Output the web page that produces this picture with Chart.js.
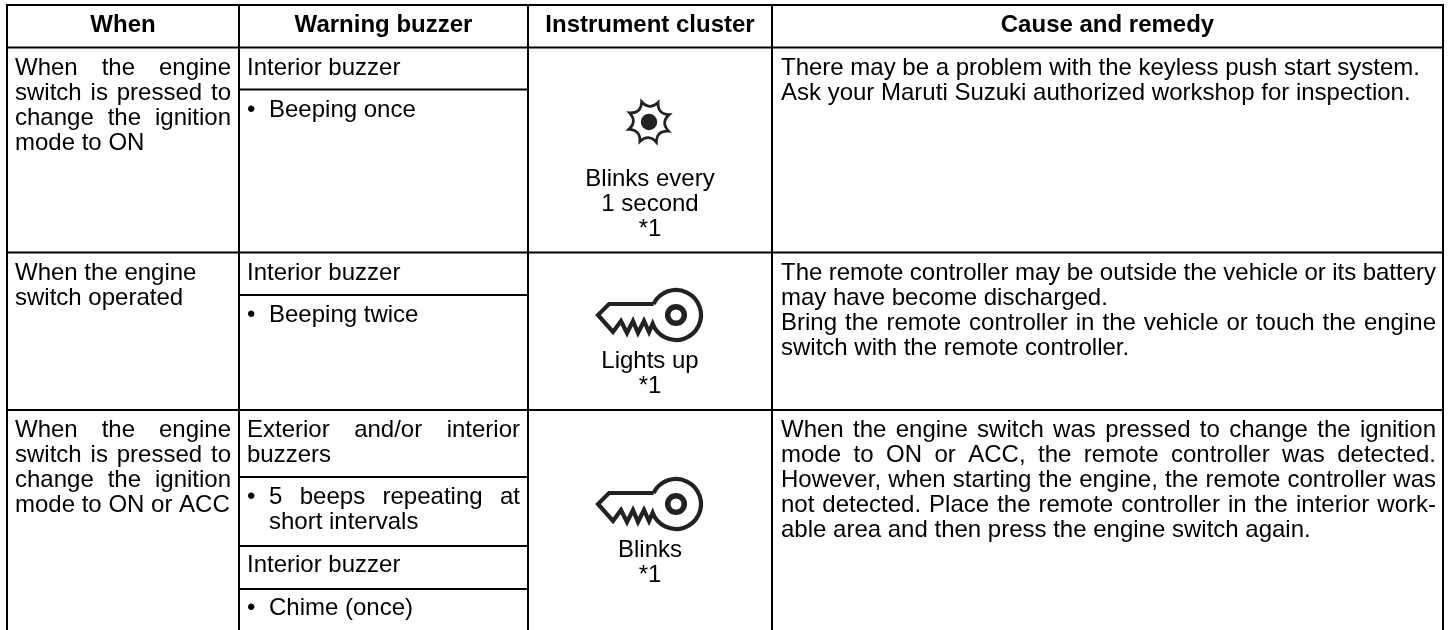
<!DOCTYPE html>
<html>
<head>
<meta charset="utf-8">
<style>
  html, body { margin: 0; padding: 0; background: #fff; overflow: hidden; }
  #myChart { display: block; }
</style>
<script src="https://cdn.jsdelivr.net/npm/chart.js@4"></script>
</head>
<body>
<canvas id="myChart" width="1452" height="630"></canvas>
<script>
// table content
var headers = ["When", "Warning buzzer", "Instrument cluster", "Cause and remedy"];
var whenRow1 = ["When the engine", "switch is pressed to", "change the ignition", "mode to ON"];
var whenRow2 = ["When the engine", "switch operated"];
var whenRow3 = ["When the engine", "switch is pressed to", "change the ignition", "mode to ON or ACC"];
var buzzerRow1 = ["Interior buzzer", "Beeping once"];
var buzzerRow2 = ["Interior buzzer", "Beeping twice"];
var buzzerRow3a = ["Exterior and/or interior", "buzzers"];
var buzzerRow3b = ["5 beeps repeating at", "short intervals"];
var buzzerRow3c = ["Interior buzzer", "Chime (once)"];
var clusterRow1 = ["Blinks every", "1 second", "*1"];
var clusterRow2 = ["Lights up", "*1"];
var clusterRow3 = ["Blinks", "*1"];
var remedyRow1 = ["There may be a problem with the keyless push start system.", "Ask your Maruti Suzuki authorized workshop for inspection."];
var remedyRow2 = ["The remote controller may be outside the vehicle or its battery", "may have become discharged.", "Bring the remote controller in the vehicle or touch the engine", "switch with the remote controller."];
var remedyRow3 = ["When the engine switch was pressed to change the ignition", "mode to ON or ACC, the remote controller was detected.", "However, when starting the engine, the remote controller was", "not detected. Place the remote controller in the interior work-", "able area and then press the engine switch again."];

// rules of the table, in page units of the two scales
var colEdges = [7, 239, 528, 772, 1443];
var rowEdges = [5, 47.5, 252.5, 410];
var subRules = [89.5, 295, 477, 546, 589];

var FONT = '"Liberation Sans", Arial, sans-serif';
var SIZE = 24;
var PITCH = 24.9;

function rule(x1, y1, x2, y2) {
  return {
    data: [{ x: x1, y: y1 }, { x: x2, y: y2 }],
    showLine: true, borderColor: '#000', borderWidth: 2,
    pointRadius: 0, borderCapStyle: 'square', order: 2
  };
}

function sunIcon() {
  var c = document.createElement('canvas');
  c.width = 60; c.height = 60;
  var g = c.getContext('2d');
  g.translate(30, 30);
  g.strokeStyle = '#222'; g.fillStyle = '#222';
  g.lineWidth = 2.8; g.lineJoin = 'miter';
  g.beginPath();
  for (var i = 0; i < 8; i++) {
    var a = (i * 45 - 20) * Math.PI / 180;
    var b = a + 22.5 * Math.PI / 180;
    g[i ? 'lineTo' : 'moveTo'](Math.cos(a) * 21.5, Math.sin(a) * 21.5);
    g.quadraticCurveTo(Math.cos(b) * 11.5, Math.sin(b) * 11.5, Math.cos(a + Math.PI / 4) * 21.5, Math.sin(a + Math.PI / 4) * 21.5);
  }
  g.closePath();
  g.stroke();
  g.beginPath();
  g.arc(0, 0, 8.2, 0, Math.PI * 2);
  g.fill();
  return c;
}

function keyIcon() {
  var c = document.createElement('canvas');
  c.width = 120; c.height = 70;
  var g = c.getContext('2d');
  g.translate(86, 35); // ring centre
  g.strokeStyle = '#222';
  g.lineWidth = 4.2; g.lineJoin = 'miter';
  g.beginPath();
  g.arc(0, 0, 25, Math.PI * 1.145, Math.PI * 0.885, false);
  g.lineTo(-27, 17); g.lineTo(-32, 6); g.lineTo(-38, 18); g.lineTo(-43, 6);
  g.lineTo(-49, 18); g.lineTo(-55, 6); g.lineTo(-63, 17);
  g.lineTo(-78, 0);
  g.lineTo(-67, -11);
  g.lineTo(-22.4, -11);
  g.stroke();
  g.lineWidth = 5.5;
  g.beginPath();
  g.arc(0, 0, 8.3, 0, Math.PI * 2);
  g.stroke();
  return c;
}

// text blocks: lines, left or centre x, first baseline, justified line indexes
var blocks = [
  { lines: whenRow1, x: 15, right: 231, y: 75, justify: [0, 1, 2] },
  { lines: whenRow2, x: 15, y: 280 },
  { lines: whenRow3, x: 15, right: 231, y: 437, justify: [0, 1, 2] },
  { lines: [buzzerRow1[0]], x: 247, y: 75 },
  { lines: [buzzerRow1[1]], x: 269, y: 117, bullet: 247 },
  { lines: [buzzerRow2[0]], x: 247, y: 280 },
  { lines: [buzzerRow2[1]], x: 269, y: 322, bullet: 247 },
  { lines: buzzerRow3a, x: 247, right: 520, y: 437, justify: [0] },
  { lines: buzzerRow3b, x: 269, right: 520, y: 504, justify: [0], bullet: 247 },
  { lines: [buzzerRow3c[0]], x: 247, y: 572 },
  { lines: [buzzerRow3c[1]], x: 269, y: 615, bullet: 247 },
  { lines: clusterRow1, cx: 650, y: 186 },
  { lines: clusterRow2, cx: 650, y: 368 },
  { lines: clusterRow3, cx: 650, y: 557 },
  { lines: remedyRow1, x: 781, y: 75 },
  { lines: remedyRow2, x: 781, right: 1436, y: 280, justify: [0, 2] },
  { lines: remedyRow3, x: 781, right: 1436, y: 437, justify: [0, 1, 2, 3] }
];

var tablePlugin = {
  id: 'tableText',
  afterDatasetsDraw: function (chart) {
    var ctx = chart.ctx, sx = chart.scales.x, sy = chart.scales.y;
    ctx.save();
    ctx.fillStyle = '#000';
    ctx.textBaseline = 'alphabetic';

    ctx.font = 'bold ' + SIZE + 'px ' + FONT;
    ctx.textAlign = 'center';
    headers.forEach(function (h, i) {
      ctx.fillText(h, sx.getPixelForValue((colEdges[i] + colEdges[i + 1]) / 2), sy.getPixelForValue(32));
    });

    ctx.font = SIZE + 'px ' + FONT;
    blocks.forEach(function (b) {
      if (b.bullet) {
        ctx.textAlign = 'left';
        ctx.fillText('\u2022', sx.getPixelForValue(b.bullet), sy.getPixelForValue(b.y));
      }
      b.lines.forEach(function (line, i) {
        var y = sy.getPixelForValue(b.y + i * PITCH);
        ctx.wordSpacing = '0px';
        if (b.cx) {
          ctx.textAlign = 'center';
          ctx.fillText(line, sx.getPixelForValue(b.cx), y);
          return;
        }
        ctx.textAlign = 'left';
        if (b.justify && b.justify.indexOf(i) >= 0) {
          var gaps = line.split(' ').length - 1;
          var extra = (b.right - b.x - ctx.measureText(line).width) / gaps;
          ctx.wordSpacing = extra + 'px';
        }
        ctx.fillText(line, sx.getPixelForValue(b.x), y);
      });
    });
    ctx.wordSpacing = '0px';
    ctx.restore();
  }
};

function dibujar() {
  var datasets = [];
  colEdges.forEach(function (x) { datasets.push(rule(x, rowEdges[0], x, 630)); });
  rowEdges.forEach(function (y) { datasets.push(rule(colEdges[0], y, colEdges[4], y)); });
  subRules.forEach(function (y) { datasets.push(rule(colEdges[1], y, colEdges[2], y)); });
  datasets.push({
    data: [{ x: 649, y: 122 }, { x: 650, y: 315 }, { x: 650, y: 504 }],
    pointStyle: [sunIcon(), keyIcon(), keyIcon()],
    showLine: false, order: 1
  });

  new Chart(document.getElementById('myChart'), {
    type: 'scatter',
    data: { datasets: datasets },
    options: {
      responsive: false,
      animation: false,
      events: [],
      layout: { padding: 0, autoPadding: false },
      plugins: { legend: { display: false }, tooltip: { enabled: false }, title: { display: false } },
      scales: {
        x: { type: 'linear', min: 0, max: 1452, display: false },
        y: { type: 'linear', min: 0, max: 630, reverse: true, display: false }
      }
    },
    plugins: [tablePlugin]
  });
}

dibujar();
</script>
</body>
</html>
